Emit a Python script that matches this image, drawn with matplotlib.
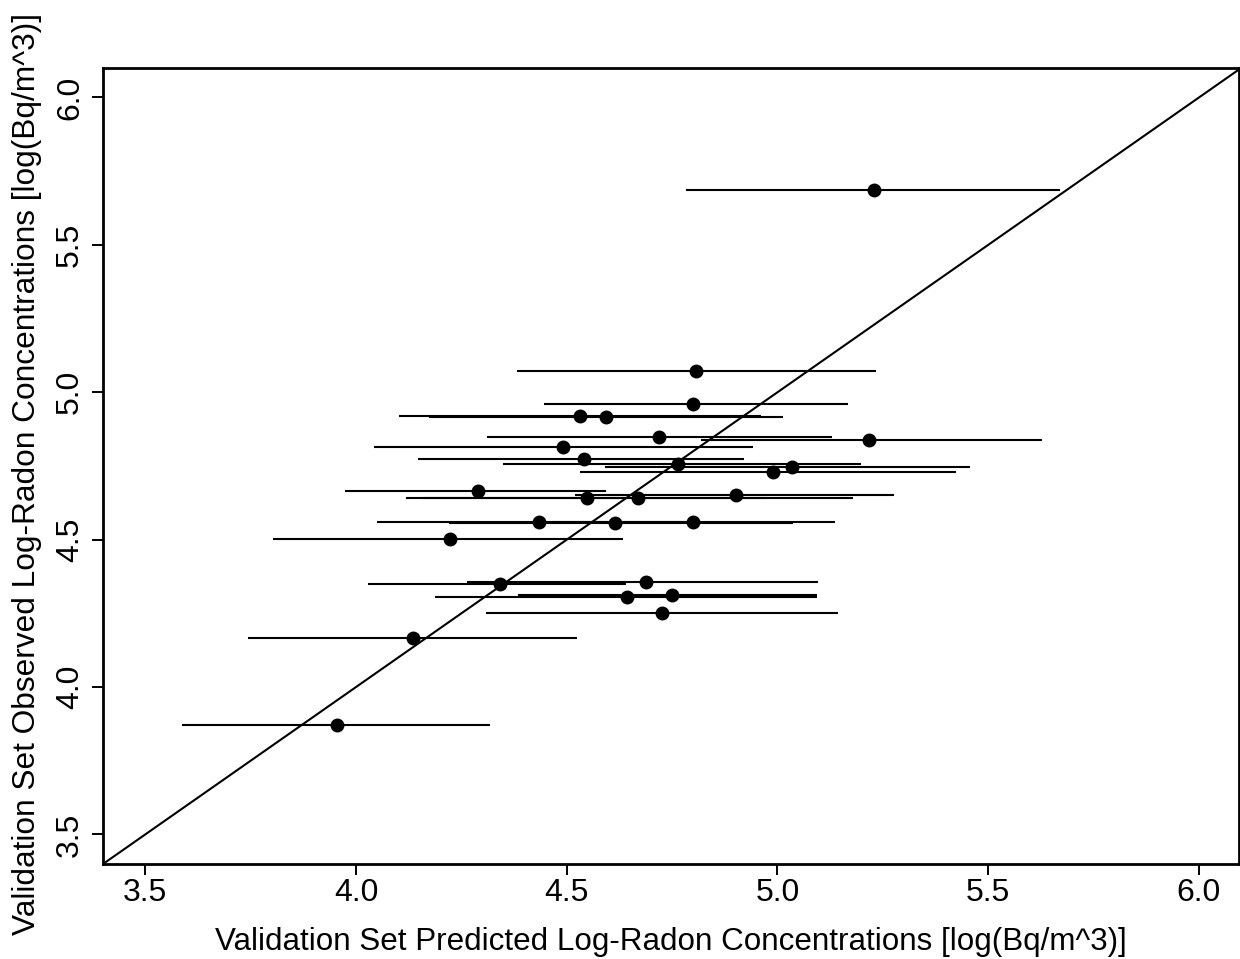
import matplotlib
matplotlib.use("Agg")
import matplotlib.pyplot as plt

plt.rcParams["font.family"] = ["Liberation Sans", "DejaVu Sans"]

# predicted (x), observed (y), and interval ends for each validation house
predicted = [5.228, 4.807, 4.800, 4.532, 4.594, 4.719, 5.217, 4.492, 4.540,
             4.763, 4.989, 5.035, 4.289, 4.548, 4.670, 4.902, 4.434, 4.614,
             4.800, 4.222, 4.342, 4.688, 4.642, 4.749, 4.727, 4.136, 3.954]
observed = [5.685, 5.073, 4.959, 4.919, 4.915, 4.847, 4.837, 4.816, 4.774,
            4.756, 4.731, 4.746, 4.666, 4.643, 4.643, 4.652, 4.560, 4.555,
            4.559, 4.501, 4.349, 4.358, 4.304, 4.312, 4.252, 4.166, 3.872]
lower = [4.783, 4.382, 4.446, 4.102, 4.173, 4.312, 4.819, 4.043, 4.148,
         4.348, 4.532, 4.591, 3.973, 4.119, 4.159, 4.520, 4.050, 4.221,
         4.464, 3.803, 4.029, 4.264, 4.188, 4.385, 4.308, 3.745, 3.587]
upper = [5.670, 5.234, 5.167, 4.961, 5.013, 5.130, 5.627, 4.941, 4.921,
         5.198, 5.423, 5.457, 4.593, 4.975, 5.179, 5.277, 4.816, 5.037,
         5.137, 4.633, 4.640, 5.097, 5.094, 5.094, 5.144, 4.524, 4.318]

ticks = [3.5, 4.0, 4.5, 5.0, 5.5, 6.0]
tick_labels = ["3.5", "4.0", "4.5", "5.0", "5.5", "6.0"]
identity = [3.4, 6.1]

fig = plt.figure(figsize=(12.4, 9.59), dpi=100)
ax = fig.add_axes([0.0831, 0.0991, 0.9161, 0.8300])

ax.hlines(observed, lower, upper, colors="black", linewidth=1.5)
ax.plot(predicted, observed, "o", color="black", markersize=9)
ax.plot(identity, identity, color="black", linewidth=1.5)

ax.set_xlim(3.4, 6.095)
ax.set_ylim(3.4, 6.1)
ax.set_xticks(ticks)
ax.set_xticklabels(tick_labels)
ax.set_yticks(ticks)
ax.set_yticklabels(tick_labels, rotation=90, va="center")

ax.tick_params(direction="out", length=8, width=1.4, labelsize=23,
               colors="black")
ax.tick_params(axis="x", pad=2)
ax.tick_params(axis="y", pad=5)
for spine in ax.spines.values():
    spine.set_linewidth(2.0)

ax.set_xlabel("Validation Set Predicted Log-Radon Concentrations [log(Bq/m^3)]",
              fontsize=22.6, labelpad=14)
ax.set_ylabel("Validation Set Observed Log-Radon Concentrations [log(Bq/m^3)]",
              fontsize=22.8)
ax.yaxis.set_label_coords(-0.054, 0.49)

fig.savefig("out.png", dpi=100)
plt.close(fig)
